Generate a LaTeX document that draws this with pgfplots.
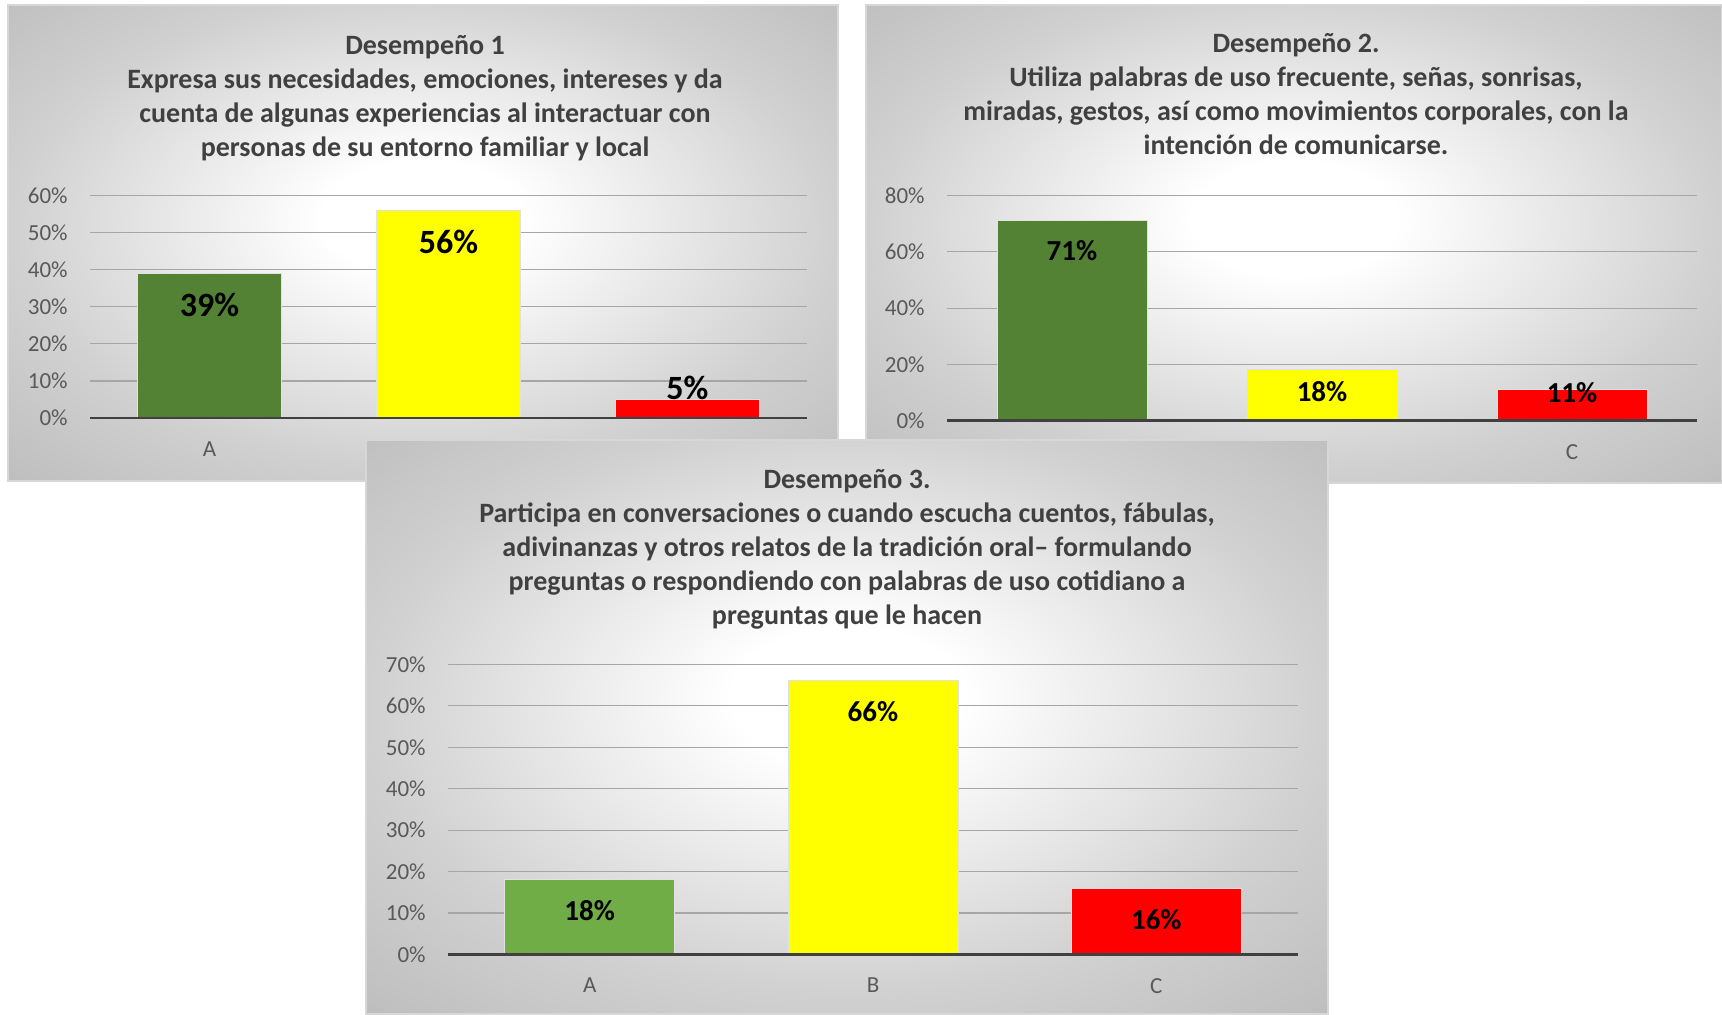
\documentclass[border=0pt]{standalone}
\usepackage{fontspec}
\setmainfont{Carlito}
\usepackage{pgfplots}
\pgfplotsset{compat=1.18}
\definecolor{dgreen}{HTML}{548235}
\definecolor{lgreen}{HTML}{70AD47}
\definecolor{byellow}{HTML}{FFFF00}
\definecolor{bred}{HTML}{FF0000}
\definecolor{gridgray}{HTML}{A6A6A6}
\definecolor{axisdark}{HTML}{404040}
\definecolor{ticklab}{HTML}{595959}
\definecolor{titlegray}{HTML}{404040}
\definecolor{bgedge}{RGB}{208,208,208}
\definecolor{bgcorner}{RGB}{190,190,190}
\definecolor{panelborder}{RGB}{215,215,215}
\definecolor{barline}{RGB}{225,225,225}
\pgfdeclareradialshading{panelbg}{\pgfpoint{0bp}{3bp}}{color(0bp)=(white); color(6bp)=(white); color(25bp)=(bgedge); color(36bp)=(bgcorner); color(50bp)=(bgcorner)}
\pgfplotsset{
  panel/.style={scale only axis, anchor=south west, xmin=-0.5, xmax=2.5, ymin=0, clip=false,
    xtick={0,1,2}, xticklabels={A,B,C}, major tick style={draw=none}, axis line style={draw=none},
    ymajorgrids, grid style={gridgray, line width=0.6pt},
    ybar, bar width=0.6, bar shift=0pt,
    tick label style={font=\fontsize{11.5}{13}\selectfont, text=ticklab},
    /pgf/number format/assume math mode=true,
    yticklabel={\pgfmathprintnumber{\tick}\%},
    yticklabel style={anchor=east, inner sep=0pt, xshift=-11pt},
    xticklabel style={inner sep=0pt, yshift=-7.4pt},
    nodes near coords={\pgfmathprintnumber{\pgfplotspointmeta}\%},
  },
  bigl/.style={every node near coord/.append style={font=\bfseries\fontsize{17}{17}\selectfont, text=black, anchor=center, inner sep=0pt, yshift=#1}},
  smal/.style={every node near coord/.append style={font=\bfseries\fontsize{14.5}{15}\selectfont, text=black, anchor=center, inner sep=0pt, yshift=#1}},
}
\newcommand{\ttl}{\bfseries\fontsize{14}{17}\selectfont\color{titlegray}}
\begin{document}
\begin{tikzpicture}
\useasboundingbox (0,0) rectangle (861pt,507pt);
\fill[white] (0,0) rectangle (861pt,507pt);
% ---------- Panel 1
\shade[shading=panelbg] (4pt,266.5pt) rectangle (419pt,504.5pt);
\draw[panelborder, line width=0.6pt] (4pt,266.5pt) rectangle (419pt,504.5pt);
\node[anchor=base, inner sep=0pt, font=\ttl] at (212.5pt,479.5pt) {Desempeño 1};
\node[anchor=base, inner sep=0pt, font=\ttl] at (212.5pt,462.5pt) {Expresa sus necesidades, emociones, intereses y da};
\node[anchor=base, inner sep=0pt, font=\ttl] at (212.5pt,445.5pt) {cuenta de algunas experiencias al interactuar con};
\node[anchor=base, inner sep=0pt, font=\ttl] at (212.5pt,428.5pt) {personas de su entorno familiar y local};
\begin{axis}[panel, at={(45pt,298pt)}, width=358.5pt, height=111.25pt, ymax=60, ytick={0,10,20,30,40,50,60}]
\addplot[fill=dgreen, draw=barline, line width=0.5pt, bigl=-15.6pt] coordinates {(0,39)};
\addplot[fill=byellow, draw=barline, line width=0.5pt, bigl=-15.6pt] coordinates {(1,56)};
\addplot[fill=bred, draw=barline, line width=0.5pt, bigl=5.75pt] coordinates {(2,5)};
\draw[axisdark, line width=1.4pt] (axis cs:-0.5,0) -- (axis cs:2.5,0);
\end{axis}
% ---------- Panel 2
\shade[shading=panelbg] (433pt,265.5pt) rectangle (861pt,504.5pt);
\draw[panelborder, line width=0.6pt] (433pt,265.5pt) rectangle (861pt,504.5pt);
\node[anchor=base, inner sep=0pt, font=\ttl] at (648pt,480.5pt) {Desempeño 2.};
\node[anchor=base, inner sep=0pt, font=\ttl] at (648pt,463.5pt) {Utiliza palabras de uso frecuente, señas, sonrisas,};
\node[anchor=base, inner sep=0pt, font=\ttl] at (648pt,446.5pt) {miradas, gestos, así como movimientos corporales, con la};
\node[anchor=base, inner sep=0pt, font=\ttl] at (648pt,429.5pt) {intención de comunicarse.};
\begin{axis}[panel, at={(473.5pt,296.7pt)}, width=375pt, height=112.5pt, ymax=80, ytick={0,20,40,60,80}]
\addplot[fill=dgreen, draw=barline, line width=0.5pt, smal=-15pt] coordinates {(0,71)};
\addplot[fill=byellow, draw=barline, line width=0.5pt, smal=-11pt] coordinates {(1,18)};
\addplot[fill=bred, draw=barline, line width=0.5pt, smal=-1.5pt] coordinates {(2,11)};
\draw[axisdark, line width=1.4pt] (axis cs:-0.5,0) -- (axis cs:2.5,0);
\end{axis}
% ---------- Panel 3
\shade[shading=panelbg] (183pt,0pt) rectangle (664pt,287pt);
\draw[panelborder, line width=0.6pt] (183pt,0pt) rectangle (664pt,287pt);
\node[anchor=base, inner sep=0pt, font=\ttl] at (423.5pt,263pt) {Desempeño 3.};
\node[anchor=base, inner sep=0pt, font=\ttl] at (423.5pt,246pt) {Participa en conversaciones o cuando escucha cuentos, fábulas,};
\node[anchor=base, inner sep=0pt, font=\ttl] at (423.5pt,229pt) {adivinanzas y otros relatos de la tradición oral– formulando};
\node[anchor=base, inner sep=0pt, font=\ttl] at (423.5pt,212pt) {preguntas o respondiendo con palabras de uso cotidiano a};
\node[anchor=base, inner sep=0pt, font=\ttl] at (423.5pt,195pt) {preguntas que le hacen};
\begin{axis}[panel, at={(224pt,29.8pt)}, width=425pt, height=145pt, ymax=70, ytick={0,10,20,30,40,50,60,70}]
\addplot[fill=lgreen, draw=barline, line width=0.5pt, smal=-15.5pt] coordinates {(0,18)};
\addplot[fill=byellow, draw=barline, line width=0.5pt, smal=-15.5pt] coordinates {(1,66)};
\addplot[fill=bred, draw=barline, line width=0.5pt, smal=-15.5pt] coordinates {(2,16)};
\draw[axisdark, line width=1.4pt] (axis cs:-0.5,0) -- (axis cs:2.5,0);
\end{axis}
\end{tikzpicture}
\end{document}
